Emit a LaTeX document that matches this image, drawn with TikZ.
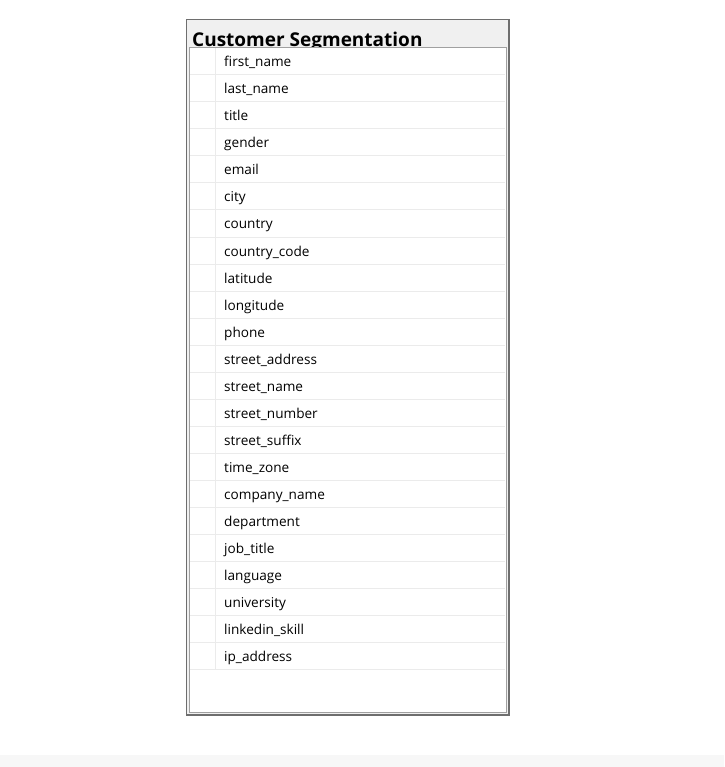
\documentclass[tikz,border=0pt]{standalone}
\usepackage{fontspec}
\setmainfont{Open Sans}
\definecolor{outerb}{HTML}{6E6E6E}
\definecolor{innerb}{HTML}{A0A0A0}
\definecolor{headfill}{HTML}{F0F0F0}
\definecolor{sepc}{HTML}{EBEBEB}
\definecolor{stripc}{HTML}{F7F7F7}
\tikzset{
  rowtext/.style={anchor=base west,inner sep=0pt,font=\fontsize{13.6}{16}\selectfont,text=black},
  titletext/.style={anchor=base west,inner sep=0pt,font=\fontsize{19}{22}\selectfont\bfseries,text=black},
  sepline/.style={draw=sepc,line width=1pt},
}
\begin{document}
\begin{tikzpicture}[x=1pt,y=-1pt]
\useasboundingbox (0,0) rectangle (724,767);
\fill[white] (0,0) rectangle (724,767);
\fill[stripc] (0,755) rectangle (724,767);
% outer box
\draw[outerb,fill=headfill,line width=1.5pt] (186.5,19.5) rectangle (509,715);
\node[titletext] (title) at (192,46.5) {Customer Segmentation};
% inner box
\fill[white] (189.5,47.5) rectangle (506,712);
\draw[sepline] (215,48) -- (215,669);
\foreach \t [count=\i from 0] in {first\_name,last\_name,title,gender,email,city,country,country\_code,latitude,longitude,phone,street\_address,street\_name,street\_number,street\_suffix,time\_zone,company\_name,department,job\_title,language,university,linkedin\_skill,ip\_address}{
  \draw[sepline] (190,75+27*\i) -- (505,75+27*\i);
  \node[rowtext] (r\i) at (224,67+27*\i) {\t};
}
\draw[innerb,line width=1pt] (189.5,47.5) rectangle (506,712);
\end{tikzpicture}
\end{document}
